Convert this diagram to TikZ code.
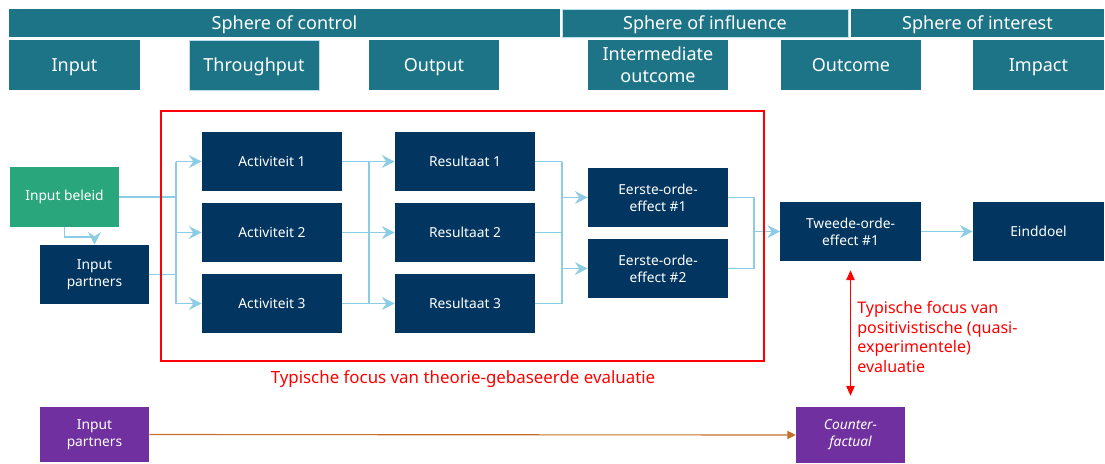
\documentclass[tikz,border=0pt]{standalone}
\usepackage{fontspec}
\setmainfont{Noto Sans}
\usepackage{tikz}
\usetikzlibrary{arrows.meta}
\usetikzlibrary{calc}

\definecolor{hdrteal}{RGB}{29,116,135}
\definecolor{boxnavy}{RGB}{2,54,96}
\definecolor{boxgreen}{RGB}{42,166,124}
\definecolor{boxpurple}{RGB}{112,48,160}
\definecolor{flowblue}{RGB}{140,204,228}
\definecolor{cfbrown}{RGB}{196,112,44}

\tikzset{
  hdr/.style={fill=hdrteal, text=white, inner sep=0pt, text depth=0pt, font=\fontsize{12.8}{14}\selectfont},
  stage/.style={hdr, minimum width=3.25cm, minimum height=1.25cm, align=center, font=\fontsize{12.8}{15.5}\selectfont},
  blok/.style={fill=boxnavy, text=white, inner sep=0pt, minimum width=3.5cm, minimum height=1.475cm, align=center, font=\fontsize{9.8}{12}\selectfont},
  flow/.style={draw=flowblue, line width=1.1pt},
  flowarrow/.style={flow, -{Stealth[length=9pt, width=9pt, inset=3pt]}},
  rood/.style={text=red, font=\fontsize{11.4}{14}\selectfont}
}

\begin{document}
\begin{tikzpicture}[x=0.025cm, y=-0.025cm]
\useasboundingbox (0,0) rectangle (1105,463);
% header rows
\node[hdr, minimum width=13.775cm, minimum height=0.7cm] (HCtrl) at (284.5,23) {Sphere of control};
\node[hdr, minimum width=7.15cm, minimum height=0.7cm, draw=flowblue!60, line width=0.4pt] (HInfl) at (705,23) {Sphere of influence};
\node[hdr, minimum width=6.325cm, minimum height=0.7cm] (HInt) at (977.5,23) {Sphere of interest};
\node[stage, minimum width=3.275cm] (SInput) at (74.5,65) {Input};
\node[stage, draw=flowblue!60, line width=0.4pt] (SThrough) at (254,65) {Throughput};
\node[stage] (SOutput) at (434,65) {Output};
\node[stage, minimum width=3.5cm] (SInter) at (658,65) {Intermediate\\outcome};
\node[stage, minimum width=3.5cm] (SOutcome) at (851,65) {Outcome};
\node[stage, minimum width=3.275cm] (SImpact) at (1038.5,65) {Impact};
% boxes
\node[blok, fill=boxgreen, minimum width=2.725cm] (Beleid) at (64.5,197) {Input beleid};
\node[blok, minimum width=2.725cm] (Partners) at (94.5,274.5) {Input\\partners};
\node[blok] (Act1) at (272,161.5) {Activiteit 1};
\node[blok] (Act2) at (272,232.5) {Activiteit 2};
\node[blok] (Act3) at (272,303.5) {Activiteit 3};
\node[blok] (Res1) at (465,161.5) {Resultaat 1};
\node[blok] (Res2) at (465,232.5) {Resultaat 2};
\node[blok] (Res3) at (465,303.5) {Resultaat 3};
\node[blok] (Eff1) at (658,197.5) {Eerste-orde-\\effect \#1};
\node[blok] (Eff2) at (658,268.5) {Eerste-orde-\\effect \#2};
\node[blok] (Tweede) at (850.5,231.5) {Tweede-orde-\\effect \#1};
\node[blok, minimum width=3.275cm] (Doel) at (1038.5,231.5) {Einddoel};
\node[blok, fill=boxpurple, minimum width=2.725cm, minimum height=1.375cm] (Partners2) at (94.5,434.5) {Input\\partners};
\node[blok, fill=boxpurple, minimum width=2.725cm, minimum height=1.4cm, font=\fontsize{9.8}{12}\selectfont\itshape] (Counter) at (850.5,435) {Counter-\\factual};
% bus points
\coordinate (J1) at (176,0);
\coordinate (J2) at (369,0);
\coordinate (J3) at (562,0);
\coordinate (J4) at (754,0);
% input -> activiteiten
\draw[flow] (Beleid.east) -- (Beleid.east -| J1);
\draw[flow] (Partners.east) -- (Partners.east -| J1);
\draw[flow] (Act1.west -| J1) -- (Act3.west -| J1);
\draw[flowarrow] (Act1.west -| J1) -- (Act1.west);
\draw[flowarrow] (Act2.west -| J1) -- (Act2.west);
\draw[flowarrow] (Act3.west -| J1) -- (Act3.west);
\draw[flowarrow] (Beleid.south) -- ++(0,10) -| (Partners.north);
% activiteiten -> resultaten
\draw[flowarrow] (Act1.east) -- (Res1.west);
\draw[flowarrow] (Act2.east) -- (Res2.west);
\draw[flowarrow] (Act3.east) -- (Res3.west);
\draw[flow] (Act1.east -| J2) -- (Act3.east -| J2);
% resultaten -> eerste-orde
\draw[flow] (Res1.east) -- (Res1.east -| J3);
\draw[flow] (Res2.east) -- (Res2.east -| J3);
\draw[flow] (Res3.east) -- (Res3.east -| J3);
\draw[flow] (Res1.east -| J3) -- (Res3.east -| J3);
\draw[flowarrow] (Eff1.west -| J3) -- (Eff1.west);
\draw[flowarrow] (Eff2.west -| J3) -- (Eff2.west);
% eerste-orde -> tweede-orde -> einddoel
\draw[flow] (Eff1.east) -| (Tweede.west -| J4) |- (Eff2.east);
\draw[flowarrow] (Tweede.west -| J4) -- (Tweede.west);
\draw[flowarrow] (Tweede.east) -- (Doel.west);
% counterfactual
\draw[cfbrown, line width=0.8pt, -{Triangle[length=6pt, width=6pt]}] (Partners2.east) -- (Counter.west);
% focus
\draw[red, line width=1.8pt] (161,111) rectangle (764,361);
\node[rood, font=\fontsize{12}{14}\selectfont] (TheorieLbl) at (463,379) {Typische focus van theorie-gebaseerde evaluatie};
\draw[red, line width=0.8pt, {Triangle[length=7pt, width=6pt]}-{Triangle[length=7pt, width=6pt]}, shorten <=9*0.025cm, shorten >=11*0.025cm] (Tweede.south) -- (Counter.north);
\node[rood, anchor=north west, align=left, inner sep=0pt] (PosLbl) at (857,301) {Typische focus van\\positivistische (quasi-\\experimentele)\\evaluatie};
\end{tikzpicture}
\end{document}
